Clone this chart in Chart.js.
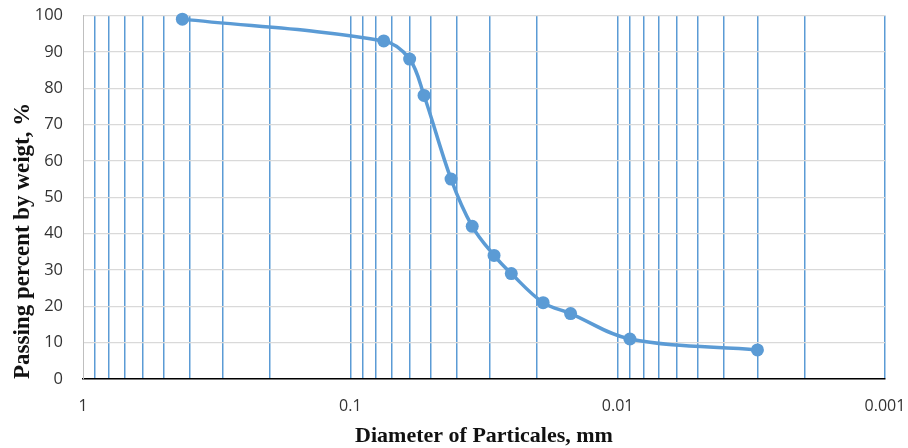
<!DOCTYPE html>
<html>
<head>
<meta charset="utf-8">
<script src="https://cdn.jsdelivr.net/npm/chart.js@4/dist/chart.umd.min.js"></script>
<style>
  body { margin: 0; background: #fff; }
  #wrap { width: 908px; height: 448px; }
</style>
</head>
<body>
<div id="wrap"><canvas id="chart" width="908" height="448"></canvas></div>
<script>
// diametres (mm) et pourcentages passants
const diameters = [0.425, 0.075, 0.06, 0.053, 0.042, 0.035, 0.029, 0.025, 0.019, 0.015, 0.009, 0.003];
const passing = [99, 93, 88, 78, 55, 42, 34, 29, 21, 18, 11, 8];

// etiquettes de l'axe des x (une par decade) et graduations 1..9 de chaque decade
const xTickLabels = ['1', '0.1', '0.01', '0.001'];
const decadeSteps = [1, 2, 3, 4, 5, 6, 7, 8, 9];

const blue = '#5B9BD5';

function decadeLabel(value) {
    const l = -Math.log10(value);
    if (Math.abs(l - Math.round(l)) < 1e-6) {
        return xTickLabels[Math.round(l)] || '';
    }
    return '';
}

// grille verticale : 1, 0.9 ... 0.001
function logTicks() {
    const ticks = [];
    for (let e = 0; e < xTickLabels.length - 1; e++) {
        decadeSteps.forEach(s => {
            ticks.push({ value: parseFloat((s * Math.pow(10, -(e + 1))).toPrecision(3)) });
        });
    }
    ticks.push({ value: 1 });
    return ticks;
}

const ctx = document.getElementById('chart').getContext('2d');
const myChart = new Chart(ctx, {
    type: 'line',
    data: {
        datasets: [{
            data: diameters.map((d, i) => ({ x: d, y: passing[i] })),
            borderColor: blue,
            backgroundColor: blue,
            borderWidth: 3.5,
            pointRadius: 6.5,
            pointBorderWidth: 0,
            pointHoverRadius: 6.5,
            tension: 0.35,
            clip: false,
            fill: false
        }]
    },
    options: {
        responsive: false,
        animation: false,
        layout: { padding: 0 },
        plugins: {
            legend: { display: false },
            tooltip: { enabled: false }
        },
        scales: {
            x: {
                type: 'logarithmic',
                reverse: true,
                min: 0.001,
                max: 1,
                afterBuildTicks: s => { s.ticks = logTicks(); },
                afterFit: s => {
                    s.height = 69;
                    s.paddingLeft = 0;
                    s.paddingRight = 23;
                },
                grid: {
                    color: c => (c.tick && c.tick.value === 1) ? 'rgba(0,0,0,0)' : blue,
                    lineWidth: 1.5,
                    drawTicks: false
                },
                border: { color: '#000', width: 1.5 },
                ticks: {
                    autoSkip: false,
                    maxRotation: 0,
                    padding: 18,
                    color: '#333',
                    font: { family: 'Open Sans', size: 16 },
                    callback: v => decadeLabel(v)
                },
                title: {
                    display: true,
                    text: 'Diameter of Particales, mm',
                    color: '#111',
                    font: { family: 'Liberation Serif', size: 22, weight: 'bold' },
                    padding: { top: 0, bottom: -2 }
                }
            },
            y: {
                min: 0,
                max: 100,
                afterFit: s => {
                    s.width = 83;
                    s.paddingTop = 15.5;
                    s.paddingBottom = 0;
                },
                ticks: {
                    stepSize: 10,
                    padding: 20,
                    color: '#333',
                    font: { family: 'Open Sans', size: 16.5 }
                },
                grid: { color: '#d9d9d9', lineWidth: 1.2, drawTicks: false },
                border: { color: '#bfbfbf', width: 1 },
                title: {
                    display: true,
                    text: 'Passing percent by weigt, %',
                    align: 'start',
                    color: '#111',
                    font: { family: 'Liberation Serif', size: 23, weight: 'bold' },
                    padding: { top: 9, bottom: 0 }
                }
            }
        }
    }
});
</script>
</body>
</html>
